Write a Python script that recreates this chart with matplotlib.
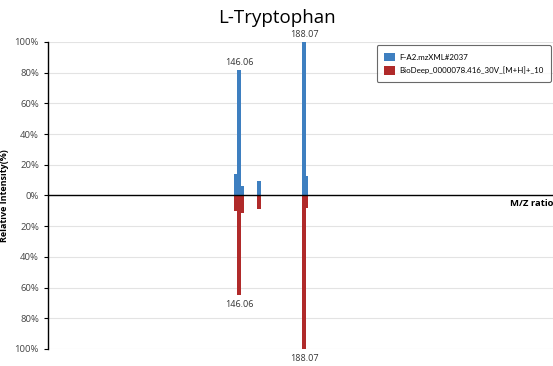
import matplotlib.pyplot as plt
from matplotlib.ticker import FuncFormatter

# spectrum peaks (m/z, relative intensity %)
query_mz = [144.08, 146.06, 148.5, 159.09, 188.07, 189.6]
query_int = [14, 82, 6.3, 9.3, 100, 12.8]
ref_mz = [144.08, 146.06, 148.5, 159.09, 188.07, 189.6]
ref_int = [10.4, 65, 11.5, 8.9, 100, 8.2]
query_name = "F-A2.mzXML#2037"
ref_name = "BioDeep_0000078.416_30V_[M+H]+_10"
labelled = [146.06, 188.07]

plt.rcParams['font.family'] = ['Open Sans', 'DejaVu Sans']

fig = plt.figure(figsize=(5.53, 3.66), dpi=100)
ax = fig.add_axes([48 / 553, 17 / 366, 505 / 553, 307 / 366])

bw = 2.2
ax.bar(query_mz, query_int, width=bw, color="#3e7fc0", label=query_name, zorder=3)
ax.bar(ref_mz, [-v for v in ref_int], width=bw, color="#b02a2a", label=ref_name, zorder=3)

for mz, v in zip(query_mz, query_int):
    if mz in labelled:
        ax.text(mz, v + 2, "%.2f" % mz, ha="center", va="bottom", fontsize=6.5,
                color="#333333", clip_on=False)
for mz, v in zip(ref_mz, ref_int):
    if mz in labelled:
        ax.text(mz, -v - 3, "%.2f" % mz, ha="center", va="top", fontsize=6.5,
                color="#333333", clip_on=False)

ax.set_xlim(23, 348.4)
ax.set_ylim(-100, 100)
ax.set_yticks(range(-100, 101, 20))
ax.yaxis.set_major_formatter(FuncFormatter(lambda v, p: "%d%%" % abs(round(v))))
ax.tick_params(axis="y", labelsize=6.8, labelcolor="#444444", length=3, width=0.8)
ax.set_xticks([])
ax.grid(axis="y", color="#e3e3e3", linewidth=0.8, zorder=0)
ax.axhline(0, color="black", linewidth=1.0, zorder=4)

for s in ["top", "right", "bottom"]:
    ax.spines[s].set_visible(False)
ax.spines["left"].set_linewidth(1.0)

ax.set_ylabel("Relative Intensity(%)", fontsize=6.5, fontweight="bold", labelpad=4)
ax.text(1.0, 0.475, "M/Z ratio", transform=ax.transAxes, ha="right", va="center",
        fontsize=6.8, fontweight="bold")

fig.suptitle("L-Tryptophan", y=0.975, fontsize=13.5)

leg = ax.legend(loc="upper right", bbox_to_anchor=(0.999, 0.994),
                prop={"family": ["Lato", "DejaVu Sans"], "size": 5.7},
                frameon=True, fancybox=True, edgecolor="#444444", handlelength=1.35,
                handleheight=1.35, handletextpad=0.6, borderpad=0.9, labelspacing=0.55,
                borderaxespad=0.2)
leg.get_frame().set_linewidth(0.8)

fig.savefig("out.png", dpi=100)
